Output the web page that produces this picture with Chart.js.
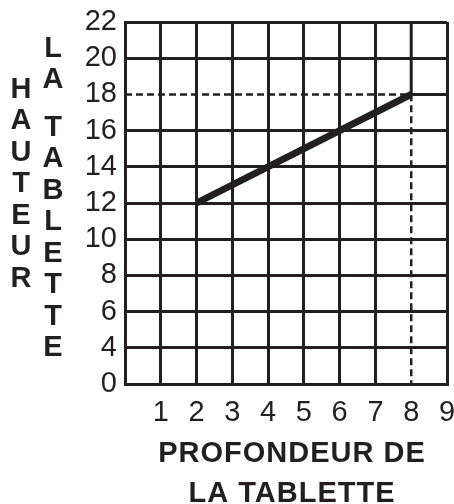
<!DOCTYPE html>
<html>
<head>
<meta charset="utf-8">
<script src="https://cdn.jsdelivr.net/npm/chart.js@4"></script>
<style>
  html, body { margin: 0; padding: 0; background: #fff; }
  #wrap { width: 454px; height: 504px; }
</style>
</head>
<body>
<div id="wrap"><canvas id="shelf"></canvas></div>
<script>
  // shelf depth vs shelf height
  const depth = [2, 8];
  const height = [12, 18];

  // reading guide: from the y axis across to the end point, then down to the x axis
  const guideX = [0, 8, 8];
  const guideY = [18, 18, 2];

  // the grid continues solid above/right of the end point
  const frameX = [8, 8, 9];
  const frameY = [22, 18, 18];

  // y axis is broken between 0 and 4, so the bottom line (value 2) is labelled 0
  const yTickValues = [2, 4, 6, 8, 10, 12, 14, 16, 18, 20, 22];
  const yTickLabels = ['0', '4', '6', '8', '10', '12', '14', '16', '18', '20', '22'];
  const xTickLabels = ['', '1', '2', '3', '4', '5', '6', '7', '8', '9'];

  const yTitleCols = ['HAUTEUR', 'LA TABLETTE'];
  const xTitleLines = ['PROFONDEUR DE', 'LA TABLETTE'];

  const INK = '#231f20';
  const FONT = "'Liberation Sans', Arial, sans-serif";

  const pts = (xs, ys) => xs.map((x, i) => ({x: x, y: ys[i]}));

  const titles = {
    id: 'titles',
    afterDraw(chart) {
      const ctx = chart.ctx;
      const area = chart.chartArea;
      ctx.save();
      ctx.fillStyle = INK;
      ctx.font = 'bold 29px ' + FONT;
      ctx.textAlign = 'center';
      ctx.textBaseline = 'alphabetic';

      // stacked letters for the y title, two columns
      const pitch = 31.5;
      const cols = [{x: 21, y: 87}, {x: 53, y: 46}];
      yTitleCols.forEach((word, c) => {
        let y = cols[c].y;
        for (const ch of word) {
          if (ch === ' ') { y += 16; continue; }
          ctx.fillText(ch, cols[c].x, y + 10.5);
          y += pitch;
        }
      });

      // x title, two centred lines
      if ('letterSpacing' in ctx) ctx.letterSpacing = '1px';
      const cx = (area.left + area.right) / 2 + 6;
      ctx.fillText(xTitleLines[0], cx, 462);
      ctx.fillText(xTitleLines[1], cx, 502);
      ctx.restore();
    }
  };

  new Chart(document.getElementById('shelf'), {
    type: 'line',
    data: {
      datasets: [
        {
          data: pts(guideX, guideY),
          borderColor: INK,
          borderWidth: 2.5,
          borderDash: [7, 4],
          pointRadius: 0,
          tension: 0
        },
        {
          data: pts(frameX, frameY),
          borderColor: INK,
          borderWidth: 3,
          pointRadius: 0,
          tension: 0
        },
        {
          data: pts(depth, height),
          borderColor: INK,
          borderWidth: 7,
          borderCapStyle: 'butt',
          pointRadius: 0,
          tension: 0
        }
      ]
    },
    options: {
      responsive: true,
      maintainAspectRatio: false,
      animation: false,
      events: [],
      layout: {padding: {top: 22, right: 7, left: 0, bottom: 0}},
      plugins: {legend: {display: false}, tooltip: {enabled: false}},
      scales: {
        x: {
          type: 'linear',
          min: 0,
          max: 9,
          afterFit: s => { s.height = 120; s.paddingLeft = 0; s.paddingRight = 0; },
          ticks: {
            stepSize: 1,
            autoSkip: false,
            maxRotation: 0,
            color: INK,
            padding: 12,
            font: {family: FONT, size: 29},
            callback: (v) => xTickLabels[v]
          },
          grid: {
            color: c => (c.tick && c.tick.value === 8) ? 'rgba(0,0,0,0)' : INK,
            lineWidth: 3,
            drawTicks: false
          },
          border: {display: true, color: INK, width: 3}
        },
        y: {
          type: 'linear',
          min: 2,
          max: 22,
          afterFit: s => { s.width = 125; s.paddingTop = 0; s.paddingBottom = 0; },
          afterBuildTicks: s => { s.ticks = yTickValues.map(v => ({value: v})); },
          ticks: {
            autoSkip: false,
            color: INK,
            padding: 8,
            font: {family: FONT, size: 29},
            callback: (v) => yTickLabels[yTickValues.indexOf(v)]
          },
          grid: {
            color: c => (c.tick && c.tick.value === 18) ? 'rgba(0,0,0,0)' : INK,
            lineWidth: 3,
            drawTicks: false
          },
          border: {display: true, color: INK, width: 3}
        }
      }
    },
    plugins: [titles]
  });
</script>
</body>
</html>
